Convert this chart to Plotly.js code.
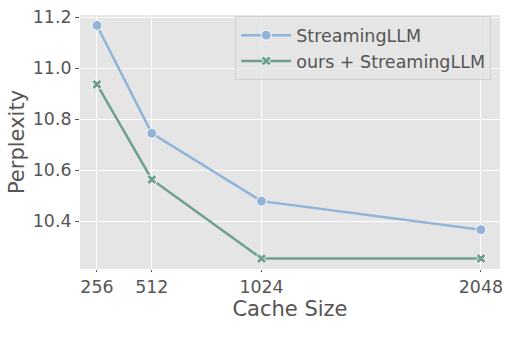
<!DOCTYPE html>
<html>
<head>
<meta charset="utf-8">
<script src="https://cdn.plot.ly/plotly-3.0.1.min.js"></script>
<style>html,body{margin:0;padding:0;background:#fff;}#chart{width:527px;height:338px;}</style>
</head>
<body>
<div id="chart"></div>
<script>
const cacheSizes = [256, 512, 1024, 2048];
const streamingLLM = [11.167, 10.744, 10.478, 10.366];
const oursStreamingLLM = [10.936, 10.563, 10.253, 10.253];
const seriesNames = ["StreamingLLM", "ours + StreamingLLM"];
const yTicks = [10.4, 10.6, 10.8, 11.0, 11.2];

const font = {family: "DejaVu Sans, sans-serif", color: "#555555"};

const traces = [
  {
    x: cacheSizes, y: streamingLLM, name: seriesNames[0], type: "scatter", mode: "lines+markers",
    line: {color: "#92b4d8", width: 2.5},
    marker: {symbol: "circle", size: 10, color: "#92b4d8", line: {color: "#ffffff", width: 1}}
  },
  {
    x: cacheSizes, y: oursStreamingLLM, name: seriesNames[1], type: "scatter", mode: "lines+markers",
    line: {color: "#6fa08d", width: 2.5},
    marker: {symbol: "x", size: 9, color: "#6fa08d", line: {color: "#ffffff", width: 1}}
  }
];

const layout = {
  width: 527, height: 338,
  margin: {l: 80, r: 27, t: 15, b: 69},
  paper_bgcolor: "#ffffff",
  plot_bgcolor: "#e5e5e5",
  font: Object.assign({size: 17}, font),
  showlegend: true,
  legend: {
    x: 0.979, xanchor: "right", y: 0.995, yanchor: "top",
    bgcolor: "rgba(229,229,229,0.8)", bordercolor: "#d0d0d0", borderwidth: 1,
    font: Object.assign({size: 17.5}, font),
    itemwidth: 50, tracegroupgap: 0
  },
  xaxis: {
    range: [177, 2137],
    tickvals: cacheSizes, ticktext: cacheSizes.map(String),
    showgrid: true, gridcolor: "#ffffff", gridwidth: 1,
    zeroline: false, showline: false,
    ticks: "outside", ticklen: 2, tickcolor: "#555555",
    tickfont: Object.assign({size: 17.4}, font),
    title: {text: "Cache Size", font: Object.assign({size: 21}, font), standoff: 5}
  },
  yaxis: {
    range: [10.212, 11.208],
    tickvals: yTicks, ticktext: yTicks.map(v => v.toFixed(1)),
    showgrid: true, gridcolor: "#ffffff", gridwidth: 1,
    zeroline: false, showline: false,
    ticks: "outside", ticklen: 4, tickcolor: "#555555",
    tickfont: Object.assign({size: 17.4}, font),
    title: {text: "Perplexity", font: Object.assign({size: 21}, font), standoff: 2}
  }
};

Plotly.newPlot("chart", traces, layout, {displayModeBar: false, staticPlot: true});
</script>
</body>
</html>
